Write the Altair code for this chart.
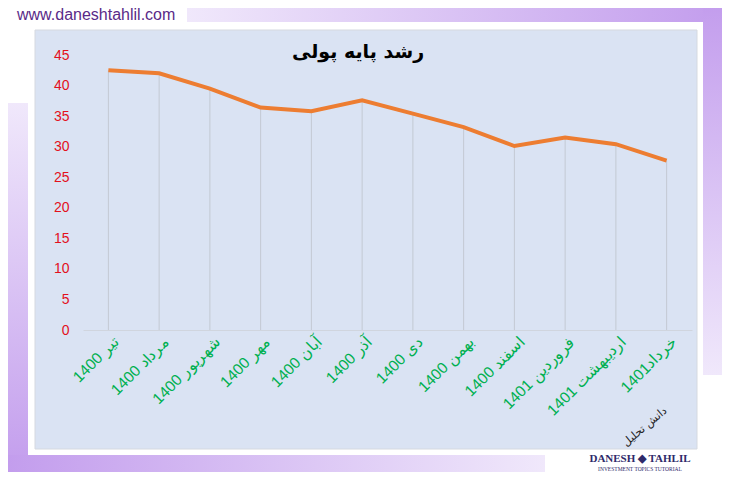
import altair as alt
import pandas as pd

months = ["تیر 1400", "مرداد 1400", "شهریور 1400", "مهر 1400", "آبان 1400", "آذر 1400",
          "دی 1400", "بهمن 1400", "اسفند 1400", "فروردین 1401", "اردیبهشت 1401", "خرداد1401"]
values = [42.5, 42.0, 39.5, 36.4, 35.8, 37.6, 35.4, 33.2, 30.1, 31.5, 30.4, 27.7]
y_ticks = [0, 5, 10, 15, 20, 25, 30, 35, 40, 45]
title_text = "رشد پایه پولی"
site_text = "www.daneshtahlil.com"

df = pd.DataFrame({"month": months, "value": values})
one = pd.DataFrame({"a": [0]})

PURPLE = "#c39ded"
LIGHT = "#f0e8fb"


def grad(c0, c1, horizontal=True):
    return {"gradient": "linear",
            "stops": [{"offset": 0, "color": c0}, {"offset": 1, "color": c1}],
            "x1": 0, "y1": 0, "x2": 1 if horizontal else 0, "y2": 0 if horizontal else 1}


def deco_rect(x, x2, y, y2, color, stroke=None):
    kw = {"color": color}
    if stroke:
        kw["stroke"] = stroke
        kw["strokeWidth"] = 1
    return alt.Chart(one).mark_rect(**kw).encode(
        x=alt.value(x), x2=alt.value(x2), y=alt.value(y), y2=alt.value(y2))


def deco_text(x, y, text, **kw):
    return alt.Chart(one).mark_text(text=text, **kw).encode(x=alt.value(x), y=alt.value(y))


top_bar = deco_rect(104, 639, -50, -33, grad(LIGHT, PURPLE, True))
right_bar = deco_rect(620, 639, -50, 320, grad(PURPLE, LIGHT, False))
left_bar = deco_rect(-75, -55, 48, 417, grad(LIGHT, PURPLE, False))
bottom_bar = deco_rect(-75, 462, 400, 417, grad(PURPLE, LIGHT, True))
panel = deco_rect(-48, 614, -25, 394, "#dae3f3", stroke="#d5d9e0")

x_enc = alt.X("month:N", sort=months, title=None,
              scale=alt.Scale(type="point", padding=0.5),
              axis=alt.Axis(labelAngle=-45, labelAlign="right", labelBaseline="middle",
                            labelColor="#00b050", labelFontSize=15.5, labelFont="Liberation Sans",
                            labelPadding=9, labelOffset=7, ticks=False, domainColor="#d0d5de",
                            grid=False, labelOverlap=False, labelLimit=200, zindex=2))
y_enc = alt.Y("value:Q", title=None, scale=alt.Scale(domain=[0, 45], nice=False),
              axis=alt.Axis(values=y_ticks, labelColor="#e3101c", labelFontSize=14,
                            labelFont="Liberation Sans", ticks=False, domain=False,
                            grid=False, labelPadding=14, zindex=2))

base = alt.Chart(df)
drops = base.mark_rule(color="#c3c9d3", strokeWidth=1).encode(x=x_enc, y=y_enc, y2=alt.datum(0))
line = base.mark_line(color="#ed7d31", strokeWidth=4).encode(x=x_enc, y=y_enc)

title = deco_text(275, -3, title_text, font="DejaVu Sans", fontSize=19, fontWeight="bold",
                  color="#000000", align="center", baseline="middle")
site = deco_text(-66, -40, site_text, font="Liberation Sans", fontSize=16, color="#5a2a88",
                 align="left", baseline="middle")
logo1 = deco_text(557, 404, "DANESH ◆ TAHLIL", font="Liberation Serif", fontSize=11,
                  fontWeight="bold", color="#2e2a6a", align="center", baseline="middle")
logo2 = deco_text(557, 414, "INVESTMENT TOPICS TUTORIAL", font="Liberation Serif", fontSize=5.5,
                  color="#2e2a6a", align="center", baseline="middle")
logo3 = deco_text(562, 372, "دانش تحلیل", font="DejaVu Sans", fontSize=11,
                  color="#222222", align="center", baseline="middle", angle=320)

chart = alt.layer(
    top_bar, right_bar, left_bar, bottom_bar, panel, drops, line, title, site, logo1, logo2, logo3
).properties(
    width=609, height=275,
    padding={"left": 75, "top": 47, "right": 30, "bottom": 142},
    autosize=alt.AutoSizeParams(type="none"),
    background="white",
).configure_view(stroke=None)

chart.save("out.html", embed_options={"renderer": "svg", "actions": False})
